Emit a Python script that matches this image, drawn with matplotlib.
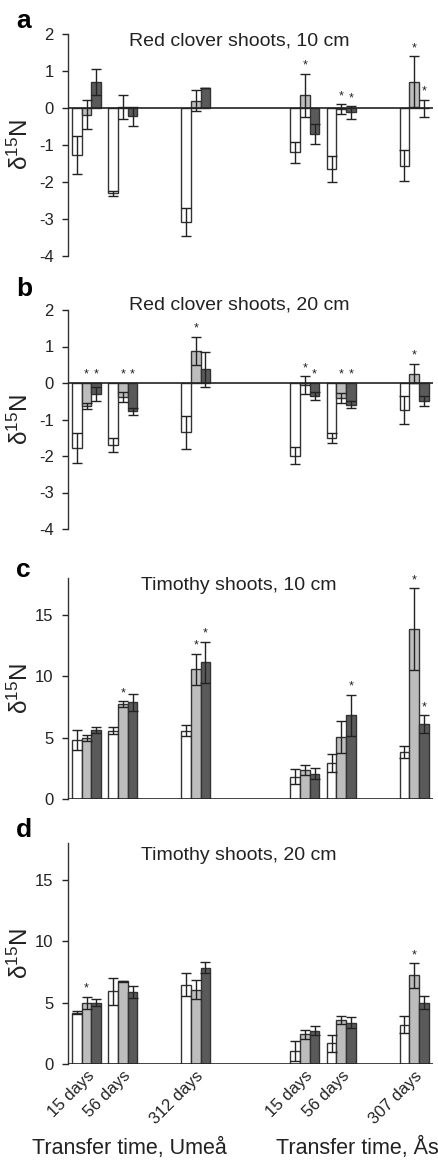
import matplotlib
matplotlib.use("Agg")
import matplotlib.pyplot as plt
import numpy as np

plt.rcParams['font.family'] = ['Liberation Sans', 'DejaVu Sans']
plt.rcParams['mathtext.default'] = 'regular'

groups = ["15 days", "56 days", "312 days", "15 days", "56 days", "307 days"]
group_pos = [0, 1, 3, 6, 7, 9]
series_colors = ["#ffffff", "#bdbdbd", "#5a5a5a"]

titles = ["Red clover shoots, 10 cm", "Red clover shoots, 20 cm",
          "Timothy shoots, 10 cm", "Timothy shoots, 20 cm"]
letters = ["a", "b", "c", "d"]

# panel a: Red clover 10 cm  (series: white, light gray, dark gray)
a_white = [-1.27, -2.31, -3.08, -1.20, -1.64, -1.56]
a_white_err = [0.52, 0.08, 0.39, 0.28, 0.35, 0.42]
a_gray = [-0.18, 0.03, 0.20, 0.34, -0.03, 0.71]
a_gray_err = [0.40, 0.33, 0.28, 0.59, 0.13, 0.69]
a_dark = [0.70, -0.22, 0.54, -0.71, -0.12, -0.01]
a_dark_err = [0.35, 0.26, 0.0, 0.27, 0.17, 0.23]
a_stars = [[], [], [], [1], [1, 2], [1, 2]]

# panel b: Red clover 20 cm
b_white = [-1.78, -1.69, -1.35, -1.99, -1.51, -0.73]
b_white_err = [0.40, 0.19, 0.45, 0.24, 0.13, 0.38]
b_gray = [-0.62, -0.39, 0.88, -0.05, -0.41, 0.26]
b_gray_err = [0.08, 0.13, 0.38, 0.24, 0.14, 0.27]
b_dark = [-0.30, -0.78, 0.38, -0.36, -0.59, -0.50]
b_dark_err = [0.19, 0.10, 0.48, 0.10, 0.09, 0.14]
b_stars = [[1, 2], [1, 2], [1], [1, 2], [1, 2], [1]]

# panel c: Timothy 10 cm
c_white = [4.81, 5.57, 5.57, 1.82, 2.91, 3.80]
c_white_err = [0.80, 0.30, 0.46, 0.60, 0.75, 0.49]
c_gray = [4.95, 7.72, 10.57, 2.36, 5.05, 13.83]
c_gray_err = [0.25, 0.23, 1.28, 0.42, 1.27, 3.32]
c_dark = [5.65, 7.88, 11.14, 2.07, 6.82, 6.11]
c_dark_err = [0.24, 0.68, 1.68, 0.45, 1.68, 0.70]
c_stars = [[], [1], [1, 2], [], [2], [1, 2]]

# panel d: Timothy 20 cm
d_white = [4.18, 5.91, 6.46, 1.06, 1.68, 3.20]
d_white_err = [0.14, 1.07, 0.94, 0.82, 0.68, 0.68]
d_gray = [4.99, 6.73, 6.05, 2.41, 3.58, 7.21]
d_gray_err = [0.47, 0.05, 0.78, 0.34, 0.34, 0.98]
d_dark = [4.99, 5.86, 7.84, 2.71, 3.36, 4.99]
d_dark_err = [0.27, 0.49, 0.43, 0.38, 0.43, 0.54]
d_stars = [[1], [], [], [], [], [1]]

panels = [
    ((a_white, a_gray, a_dark), (a_white_err, a_gray_err, a_dark_err), a_stars, (-4, 2), range(-4, 3)),
    ((b_white, b_gray, b_dark), (b_white_err, b_gray_err, b_dark_err), b_stars, (-4, 2), range(-4, 3)),
    ((c_white, c_gray, c_dark), (c_white_err, c_gray_err, c_dark_err), c_stars, (0, 18), [0, 5, 10, 15]),
    ((d_white, d_gray, d_dark), (d_white_err, d_gray_err, d_dark_err), d_stars, (0, 18), [0, 5, 10, 15]),
]

fig = plt.figure(figsize=(4.39, 11.6), dpi=100)
W, H = 439, 1160
boxes = [(34, 256), (310, 529), (578, 799), (843, 1064)]
title_y = [41, 305, 586, 855]
letter_y = [21, 289, 570, 830]
x_left, x_right = 68, 433
bw = 0.265
pos = np.array(group_pos, dtype=float)

for i, (vals, errs, stars, ylim, yt) in enumerate(panels):
    top, bot = boxes[i]
    ax = fig.add_axes([x_left / W, 1 - bot / H, (x_right - x_left) / W, (bot - top) / H])
    for s in range(3):
        xs = pos + (s - 1) * bw
        ax.bar(xs, vals[s], width=bw, color=series_colors[s], edgecolor="#333333",
               linewidth=1.0, zorder=2)
        ax.errorbar(xs, vals[s], yerr=errs[s], fmt="none", ecolor="#222222",
                    elinewidth=1.0, capsize=3.5, capthick=1.0, zorder=3)
    for g, slist in enumerate(stars):
        for s in slist:
            x = pos[g] + (s - 1) * bw
            y = max(vals[s][g] + errs[s][g], 0)
            ax.annotate("*", (x, y), xytext=(0, 1.5), textcoords="offset points",
                        ha="center", va="bottom", fontsize=9, color="#222222")
    ax.axhline(0, color="#222222", lw=1.2, zorder=4)
    ax.set_xlim(-0.51, 9.52)
    ax.set_ylim(*ylim)
    ax.set_yticks(list(yt))
    ax.set_yticklabels([str(v) for v in yt])
    for sp in ["top", "right", "bottom"]:
        ax.spines[sp].set_visible(False)
    ax.spines["left"].set_color("#333333")
    ax.spines["left"].set_linewidth(1.0)
    ax.tick_params(axis="y", direction="out", length=4.3, width=1, labelsize=12,
                   colors="#222222", pad=6)
    ax.set_ylabel(r"δ$^{15}$N", fontsize=17.5, labelpad=0, color="#222222")
    ax.yaxis.set_label_coords((33 - x_left) / (x_right - x_left), 0.5)
    fig.text(239 / W, 1 - title_y[i] / H, titles[i], fontsize=14, ha="center",
             va="center", color="#222222")
    fig.text(16 / W, 1 - letter_y[i] / H, letters[i], fontsize=19, fontweight="bold",
             ha="left", va="center")
    if i == 3:
        ax.set_xticks(pos)
        ax.set_xticklabels(groups, rotation=45, ha="right", va="top",
                           rotation_mode="anchor", fontsize=12, color="#222222")
        ax.tick_params(axis="x", length=0, pad=3)
    else:
        ax.set_xticks([])

fig.text(129 / W, 1 - 1148 / H, "Transfer time, Umeå", fontsize=15.5, ha="center",
         va="center", color="#222222")
fig.text(357 / W, 1 - 1148 / H, "Transfer time, Ås", fontsize=15.5, ha="center",
         va="center", color="#222222")

fig.savefig("out.png", dpi=100)
